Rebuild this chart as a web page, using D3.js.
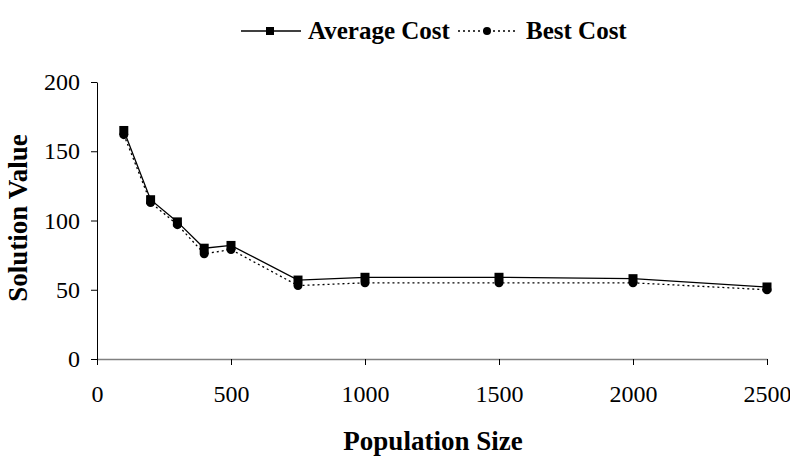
<!DOCTYPE html>
<html>
<head>
<meta charset="utf-8">
<script src="https://cdn.jsdelivr.net/npm/d3@7"></script>
<style>
body { margin: 0; background: #fff; }
</style>
</head>
<body>
<script>
// data
var popSizes = [100, 200, 300, 400, 500, 750, 1000, 1500, 2000, 2500];
var avgCost  = [165, 115, 99, 80, 82, 57, 59, 59, 58, 52];
var bestCost = [162, 113, 97, 76, 79, 53, 55, 55, 55, 50];
var xTicks = [0, 500, 1000, 1500, 2000, 2500];
var yTicks = [0, 50, 100, 150, 200];

var serif = "'Liberation Serif', 'Times New Roman', serif";
var width = 790, height = 472;
var svg = d3.select("body").append("svg")
  .attr("width", width).attr("height", height);

var x = d3.scaleLinear().domain([0, 2500]).range([97, 767]);
var y = d3.scaleLinear().domain([0, 200]).range([359, 82]);

// x axis (grey line)
var gx = svg.append("g").attr("transform", "translate(0,359)")
  .call(d3.axisBottom(x).tickValues(xTicks).tickFormat(d3.format("d"))
    .tickSize(6).tickPadding(20).tickSizeOuter(0));
gx.attr("font-family", null).attr("font-size", null);
gx.select(".domain").attr("stroke", "#808080").attr("stroke-width", 1.5);
gx.selectAll(".tick line").attr("stroke", "#000");
gx.selectAll("text").attr("fill", "#000").style("font-family", serif).style("font-size", "24px");

// y axis
var gy = svg.append("g").attr("transform", "translate(97,0)")
  .call(d3.axisLeft(y).tickValues(yTicks).tickSize(6).tickPadding(11).tickSizeOuter(0));
gy.attr("font-family", null).attr("font-size", null);
gy.select(".domain").attr("stroke", "#000");
gy.selectAll("text").attr("fill", "#000").style("font-family", serif).style("font-size", "24px");

// axis titles
svg.append("text").attr("x", 433).attr("y", 450).attr("text-anchor", "middle")
  .style("font-family", serif).style("font-size", "27px").style("font-weight", "bold").text("Population Size");
svg.append("text").attr("transform", "translate(27,218) rotate(-90)").attr("text-anchor", "middle")
  .style("font-family", serif).style("font-size", "27px").style("font-weight", "bold").text("Solution Value");

var line = d3.line().x(function(d) { return x(d[0]); }).y(function(d) { return y(d[1]); });
var avgPts = popSizes.map(function(p, i) { return [p, avgCost[i]]; });
var bestPts = popSizes.map(function(p, i) { return [p, bestCost[i]]; });

// best cost: dotted line + circles
svg.append("path").datum(bestPts).attr("d", line)
  .attr("fill", "none").attr("stroke", "#000").attr("stroke-width", 1.3).attr("stroke-dasharray", "2,3");
svg.selectAll(".best").data(bestPts).enter().append("circle")
  .attr("cx", function(d) { return x(d[0]); }).attr("cy", function(d) { return y(d[1]); })
  .attr("r", 4.5).attr("fill", "#000");

// average cost: solid line + squares
svg.append("path").datum(avgPts).attr("d", line)
  .attr("fill", "none").attr("stroke", "#000").attr("stroke-width", 1.3);
svg.selectAll(".avg").data(avgPts).enter().append("rect")
  .attr("x", function(d) { return x(d[0]) - 4.5; }).attr("y", function(d) { return y(d[1]) - 4.5; })
  .attr("width", 9).attr("height", 9).attr("fill", "#000");

// legend
svg.append("line").attr("x1", 241).attr("x2", 301).attr("y1", 31).attr("y2", 31)
  .attr("stroke", "#000").attr("stroke-width", 1.3);
svg.append("rect").attr("x", 266).attr("y", 27).attr("width", 8).attr("height", 8).attr("fill", "#000");
svg.append("text").attr("x", 308).attr("y", 39).style("font-family", serif)
  .style("font-size", "25px").style("font-weight", "bold").text("Average Cost");
svg.append("line").attr("x1", 458).attr("x2", 516).attr("y1", 31).attr("y2", 31)
  .attr("stroke", "#000").attr("stroke-width", 1.3).attr("stroke-dasharray", "2,3");
svg.append("circle").attr("cx", 487).attr("cy", 31).attr("r", 4).attr("fill", "#000");
svg.append("text").attr("x", 526).attr("y", 39).style("font-family", serif)
  .style("font-size", "25px").style("font-weight", "bold").text("Best Cost");
</script>
</body>
</html>
